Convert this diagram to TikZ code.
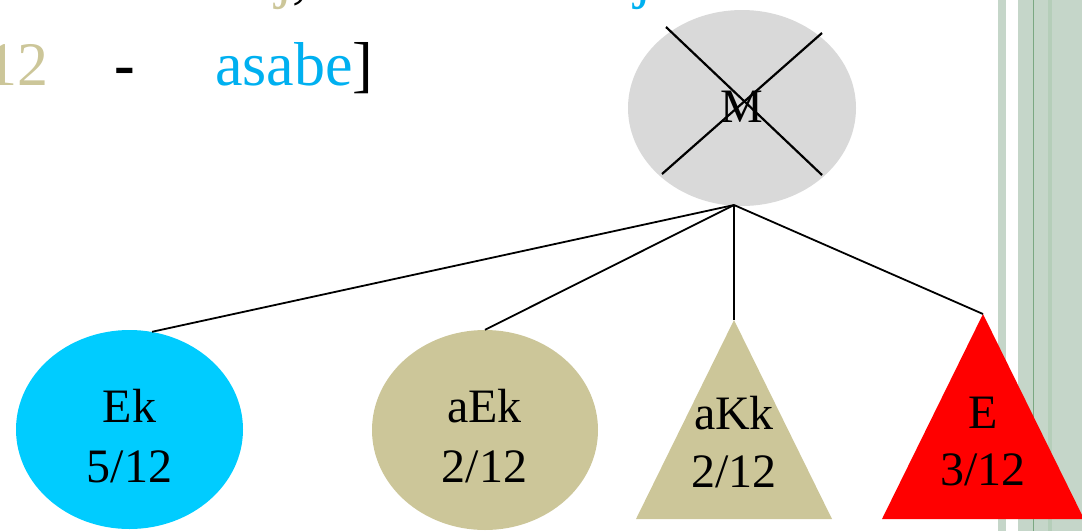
\documentclass[tikz,border=0pt]{standalone}
\usepackage{fontspec}
\setmainfont{Liberation Serif}
\usetikzlibrary{shapes.geometric}
\definecolor{cyanfill}{HTML}{00CCFF}
\definecolor{tanfill}{HTML}{CCC699}
\definecolor{mgray}{HTML}{D9D9D9}
\definecolor{txtcyan}{HTML}{00B0F0}
\definecolor{txttan}{HTML}{CCC699}
\definecolor{stripe}{HTML}{C5D6C9}
\definecolor{stripedark}{HTML}{7BA882}
\definecolor{stripemid}{HTML}{B5CEB9}
\begin{document}
\begin{tikzpicture}[x=1pt,y=-1pt,
  conn/.style={line width=1.8pt, black},
  cross/.style={line width=2.2pt, black},
  lbl/.style={anchor=base, inner sep=0pt, font=\fontsize{48}{58}\selectfont},
  big/.style={inner sep=0pt, font=\fontsize{62}{74}\selectfont},
  blob/.style={ellipse, draw=none, inner sep=0pt}]
\useasboundingbox (0,0) rectangle (1082,531);
\clip (0,0) rectangle (1082,531);
% background stripes on the right
\fill[stripe] (998,0) rectangle (1006,531);
\fill[stripe] (1018,0) rectangle (1082,531);
\fill[stripemid] (1048,0) rectangle (1052,531);
\fill[stripedark] (1032.8,0) rectangle (1034,531);
% top text (partly cut)
\node[big, anchor=base west] (frag1) at (275,-4) {\textcolor{txttan}{j},};
\node[big, anchor=base west, text=txtcyan] (frag2) at (634,-4) {j};
\node[big, anchor=base east, text=txttan] (t12) at (49,85) {12};
\node[big, anchor=base, text=black] (tdash) at (125,85) {\textbf{-}};
\node[big, anchor=base west] (tasabe) at (215,85) {\textcolor{txtcyan}{asabe}]};
% root
\node[blob, fill=mgray, minimum width=228pt, minimum height=196pt] (m) at (742,108) {};
\draw[cross] (666,27) -- (822,175);
\draw[cross] (822,33) -- (662,174);
\node[lbl] (mlbl) at (742,122) {M};
\coordinate (j) at (734,205);
% children
\node[blob, fill=cyanfill, minimum width=227pt, minimum height=199pt] (ek) at (129.5,429.5) {};
\node[blob, fill=tanfill, minimum width=226pt, minimum height=200pt] (aek) at (485,430) {};
\coordinate (akktop) at (734,320);
\fill[tanfill] (akktop) -- (636,519) -- (832,519) -- cycle;
\coordinate (etop) at (983,314);
\fill[red] (etop) -- (882,519) -- (1084,519) -- cycle;
% connectors
\draw[conn] (j) -- (ek.77);
\draw[conn] (j) -- (aek.north);
\draw[conn] (j) -- (akktop);
\draw[conn] (j) -- (etop);
% labels
\node[lbl] (ek1) at (129.5,422) {Ek};
\node[lbl] (ek2) at (129.5,482) {5/12};
\node[lbl] (aek1) at (484.5,422) {aEk};
\node[lbl] (aek2) at (484.5,482) {2/12};
\node[lbl] (akk1) at (734,429) {aKk};
\node[lbl] (akk2) at (734,487) {2/12};
\node[lbl] (e1) at (983,428) {E};
\node[lbl] (e2) at (983,485) {3/12};
\end{tikzpicture}
\end{document}
